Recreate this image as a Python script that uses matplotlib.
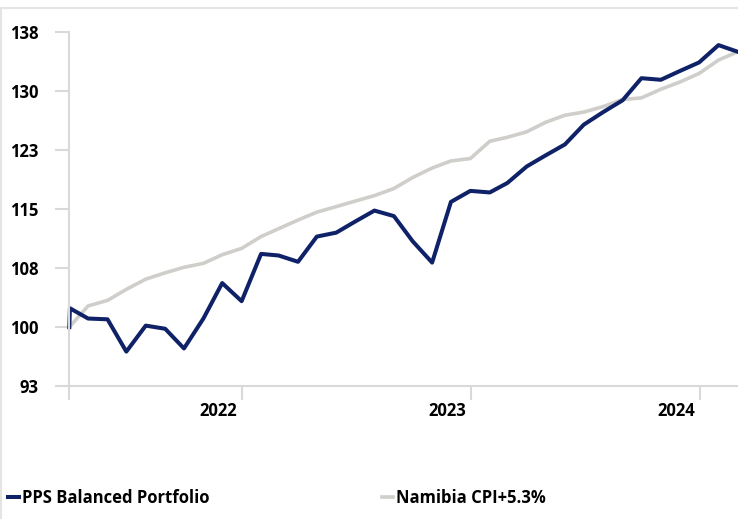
import matplotlib
matplotlib.use('Agg')
import matplotlib.pyplot as plt
import matplotlib.dates as mdates
from matplotlib.patches import Rectangle
from matplotlib.transforms import ScaledTranslation
import pandas as pd

# month-end index values, first two points are inception
start_dates = ['2021-03-31', '2021-04-01']
month_ends = pd.date_range('2021-04-30', '2024-02-29', freq='ME')
dates = pd.to_datetime(start_dates).append(month_ends)

pps_balanced = [100.0, 102.4,
                101.1, 101.0, 96.9, 100.2, 99.8, 97.3, 101.1, 105.6, 103.3,
                109.3, 109.1, 108.3, 111.5, 112.0, 113.4, 114.8, 114.1, 110.9, 108.2, 115.9, 117.3,
                117.1, 118.3, 120.4, 121.8, 123.2, 125.7, 127.3, 128.8, 131.6, 131.4, 132.5, 133.6,
                135.8, 135.0]

namibia_cpi = [100.0, 100.1,
               102.7, 103.4, 104.8, 106.1, 106.9, 107.6, 108.1, 109.2, 110.0,
               111.5, 112.5, 113.6, 114.6, 115.3, 116.0, 116.7, 117.6, 119.0, 120.2, 121.1, 121.4,
               123.6, 124.1, 124.8, 126.0, 126.9, 127.3, 128.0, 128.9, 129.1, 130.2, 131.1, 132.2,
               133.9, 134.9]

y_ticks = [92.5, 100, 107.5, 115, 122.5, 130, 137.5]
y_labels = ['93', '100', '108', '115', '123', '130', '138']
year_ticks = ['2022-01-01', '2023-01-01', '2024-01-01']
year_labels = ['2022', '2023', '2024']

navy = '#0f2167'
grey = '#d0cecb'
axis_grey = '#d9d9d9'

plt.rcParams['font.family'] = ['Open Sans', 'DejaVu Sans']
plt.rcParams['font.weight'] = 'bold'
plt.rcParams['font.size'] = 12

fig = plt.figure(figsize=(7.38, 5.19), dpi=100)
ax = fig.add_axes([0.0939, 0.2557, 0.9043, 0.6832])

cpi_line, = ax.plot(dates, namibia_cpi, color=grey, lw=2.6, label='Namibia CPI+5.3%', clip_on=False)
pps_line, = ax.plot(dates, pps_balanced, color=navy, lw=2.9, label='PPS Balanced Portfolio', clip_on=False)

ax.set_ylim(92.5, 137.5)
ax.set_xlim(dates[0], dates[-1])
ax.set_yticks(y_ticks)
ax.set_yticklabels(y_labels, fontweight='bold')

xt = [dates[0]] + list(pd.to_datetime(year_ticks))
ax.set_xticks(mdates.date2num(xt))
ax.set_xticklabels([''] + year_labels, fontweight='bold')

for s in ['top', 'right']:
    ax.spines[s].set_visible(False)
for s in ['left', 'bottom']:
    ax.spines[s].set_color(axis_grey)
    ax.spines[s].set_linewidth(1.5)

ax.tick_params(axis='y', length=10, width=1.5, color=axis_grey, pad=12, labelcolor='black')
ax.tick_params(axis='x', length=10, width=1.5, color=axis_grey, pad=1, labelcolor='black')

offset = ScaledTranslation(-5 / 100, 0, fig.dpi_scale_trans)
for lbl in ax.get_xticklabels():
    lbl.set_horizontalalignment('right')
    lbl.set_transform(lbl.get_transform() + offset)

# legend entries along the bottom
for line, x0 in [(pps_line, 8 / 738), (cpi_line, 382 / 738)]:
    fig.legend(handles=[line], loc='center left', bbox_to_anchor=(x0, 0.0405),
               frameon=False, handlelength=0.66, handletextpad=0.15,
               borderpad=0, borderaxespad=0, prop={'weight': 'bold', 'size': 12})

# chart frame
fig.patches.append(Rectangle((0.0007, -0.1), 2, 1.0855, transform=fig.transFigure,
                             fill=False, edgecolor='#e4e4e4', lw=1.5))

fig.savefig('out.png', dpi=100)
